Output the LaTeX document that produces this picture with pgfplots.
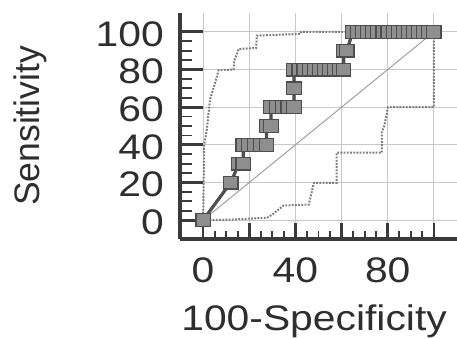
\documentclass[border=0pt]{standalone}
\usepackage{fontspec}
\setmainfont{Liberation Sans}[FakeStretch=1.15]
\newfontfamily\plainsans{Liberation Sans}
\usepackage{pgfplots}
\pgfplotsset{compat=1.18}
\definecolor{axc}{HTML}{3A3A3A}
\definecolor{gridc}{HTML}{C8C8C8}
\definecolor{mfill}{HTML}{8E8E8E}
\definecolor{mdraw}{HTML}{4E4E4E}
\definecolor{band}{HTML}{7C7C7C}
\definecolor{diag}{HTML}{A0A0A0}
\definecolor{txt}{HTML}{2E2E2E}
\begin{document}
\begin{tikzpicture}
\useasboundingbox (0,0) rectangle (457pt,338pt);
\begin{axis}[
  at={(180pt,99pt)}, anchor=south west,
  scale only axis, width=277pt, height=226pt,
  xmin=-10, xmax=110, ymin=-10, ymax=110,
  axis x line*=bottom, axis y line*=left,
  axis line style={line width=3.5pt, draw=axc, -},
  tick pos=left,
  tick align=inside,
  xtick={0,20,...,100}, xticklabels={0,,40,,80,},
  ytick={0,20,...,100}, yticklabels={0,20,40,60,80,100},
  minor tick num=3,
  every tick/.style={draw=axc},
  every major tick/.append style={line width=2.8pt},
  every minor tick/.append style={line width=1.8pt},
  xtick style={/pgfplots/major tick length=16pt, /pgfplots/minor tick length=8.5pt},
  ytick style={/pgfplots/major tick length=23pt, /pgfplots/minor tick length=12pt},
  grid=major,
  major grid style={draw=gridc, line width=1pt},
  /pgf/number format/assume math mode=true,
  tick label style={font=\fontsize{35.5}{40}\selectfont, text=txt},
  xticklabel style={anchor=north, inner sep=0pt, yshift=-19pt},
  yticklabel style={anchor=east, inner sep=0pt, xshift=-16pt, yshift=-2pt},
  xlabel={100-Specificity},
  xlabel style={at={(axis description cs:0.484,-0.403)}, anchor=base, inner sep=0pt, font=\fontsize{35.5}{40}\selectfont, text=txt},
  ylabel={Sensitivity},
  ylabel style={at={(axis description cs:-0.508,0.5)}, anchor=base, inner sep=0pt, font=\plainsans\fontsize{35.5}{40}\selectfont, text=txt},
]
% diagonal reference line
\addplot[diag, line width=1pt] coordinates {(0,0) (100,100)};
% lower confidence band
\addplot[band, line width=2pt, dash pattern=on 1.8pt off 1.4pt] coordinates {
(0,0) (12,0.3) (27.7,1.3) (30,3) (34.9,7.8) (45.8,8.3) (46.5,12) (48,19.8)
(57.8,19.8) (57.8,35.8) (77.4,35.8) (77.4,46.4) (78.5,50) (80.1,60) (100,60) (100,100)};
% upper confidence band
\addplot[band, line width=2pt, dash pattern=on 1.8pt off 1.4pt] coordinates {
(0,0) (0.5,40) (1.6,48) (3,64) (5.2,72.9) (6.7,79.6) (13.2,80) (13.4,84.4)
(14.6,87.9) (15.4,90.9) (23,91.4) (23.3,98) (42.2,98.9) (42.5,100) (100,100)};
% ROC curve
\addplot[draw=mdraw, line width=3.2pt, mark=square*, mark size=6.4pt,
  mark options={fill=mfill, draw=mdraw, line width=1.2pt, xscale=1.12}] coordinates {
(0,0)
(12,20)
(15.5,30) (17.4,30)
(17.4,40) (19.9,40) (22.4,40) (25,40) (27.5,40)
(27.4,50) (29.4,50)
(29.4,60) (31.9,60) (34.4,60) (36.9,60) (39.4,60)
(39.4,70)
(39.4,80) (41.6,80) (43.8,80) (46,80) (48.2,80) (50.4,80) (52.6,80) (54.8,80) (57,80) (59.2,80) (60.9,80)
(60.9,90) (62.3,90)
(64.8,100) (67,100) (69.2,100) (71.4,100) (73.6,100) (75.8,100) (78,100) (80.2,100) (82.4,100)
(84.6,100) (86.8,100) (89,100) (91.2,100) (93.4,100) (95.6,100) (97.8,100) (100,100)};
\end{axis}
\end{tikzpicture}
\end{document}
